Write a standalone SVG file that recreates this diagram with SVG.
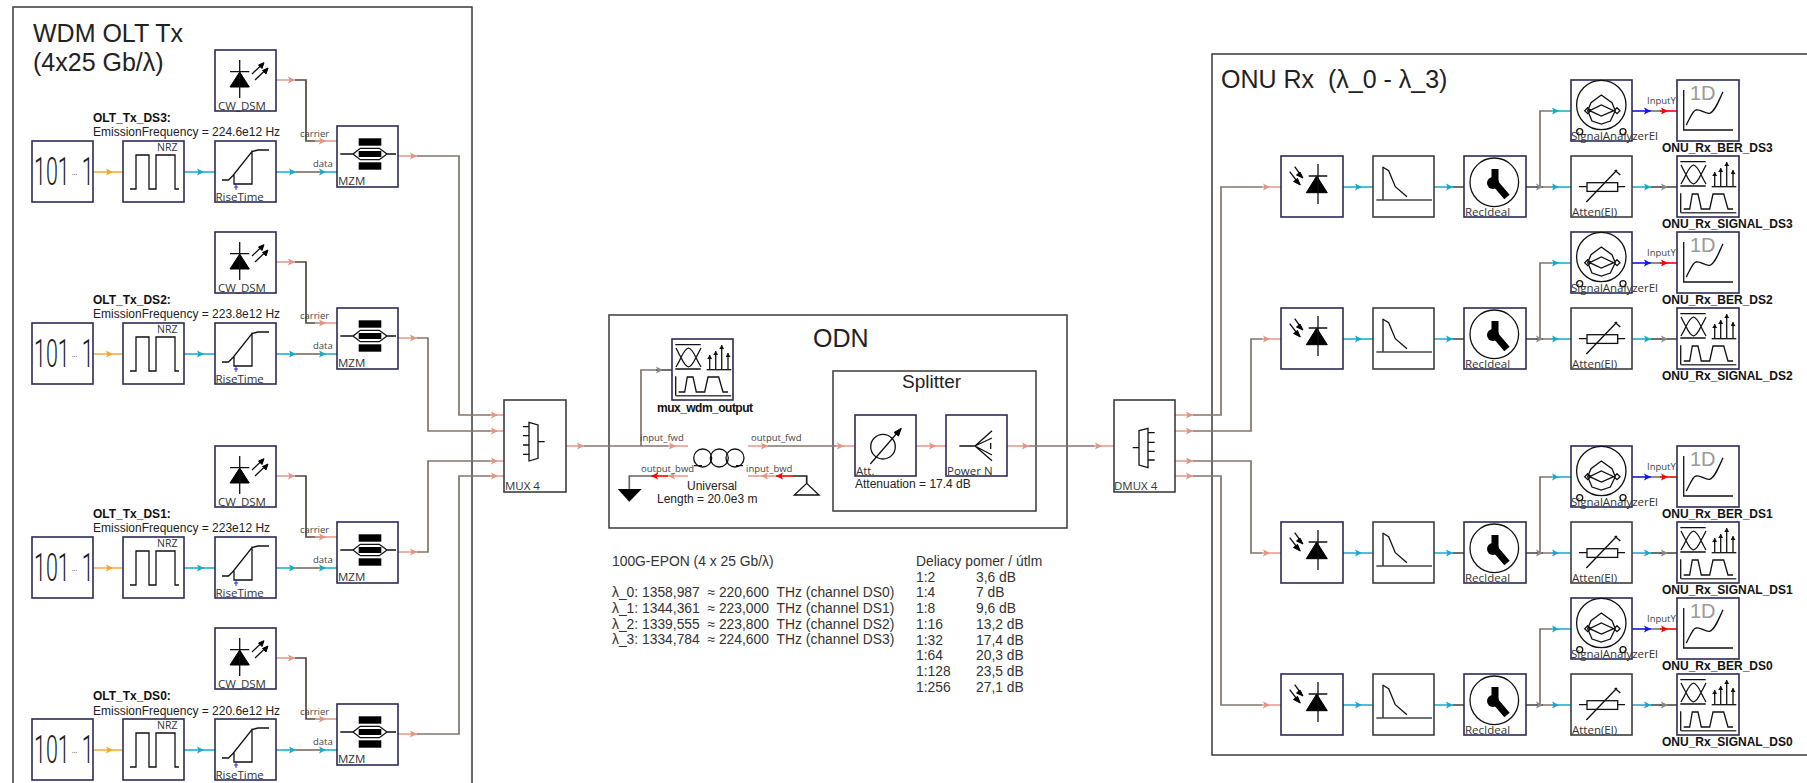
<svg xmlns="http://www.w3.org/2000/svg" width="1807" height="783" viewBox="0 0 1807 783">
<style>
text{font-family:"Liberation Sans",Arial,sans-serif;fill:#222;white-space:pre}
.fr{fill:none;stroke:#3a3a3a;stroke-width:1.5}
.n{fill:#fff;stroke:#2b2b55;stroke-width:1.6}
.g{fill:#fff;stroke:#3d3d3d;stroke-width:1.6}
.ic{fill:none;stroke:#111;stroke-width:1.3}
.ik{fill:#000;stroke:#000;stroke-width:1}
.h{fill:none;stroke-width:1.7;stroke-linejoin:miter}
.br{stroke:#84756a}
.dk{stroke:#55463a}
.gy{stroke:#555}
.bk{stroke:#222}
.p{stroke:#e7a595;marker-end:url(#ap)}
.c{stroke:#2fb4cf;marker-end:url(#ac)}
.o{stroke:#f5b44a;marker-end:url(#ao)}
.b{stroke:#2222ee;marker-end:url(#ab)}
.r{stroke:#ee1111;marker-end:url(#ar)}
.y{stroke:#555;marker-end:url(#ay)}
.t1{font-size:25px}
.t2{font-size:19px}
.l{font-family:"Open Sans",sans-serif;font-size:11.500px;fill:#333}
.nz{font-family:"Open Sans",sans-serif;font-size:10.500px;fill:#333}
.s{font-family:"Open Sans",sans-serif;font-size:9.500px;fill:#444}
.m{font-size:12px}
.mb{font-size:12px;font-weight:bold;fill:#111}
.k{font-size:13.850px;fill:#333}
.bits{font-family:Roboto,sans-serif;font-weight:300;font-size:39px;fill:#222}
.d1{font-size:20px;fill:#999}
</style>
<defs>
<marker id="ap" markerUnits="userSpaceOnUse" markerWidth="8" markerHeight="8" refX="7" refY="4" orient="auto"><path d="M0 .5L7 4L0 7.5L1.5 4z" fill="#e39583"/></marker>
<marker id="ac" markerUnits="userSpaceOnUse" markerWidth="8" markerHeight="8" refX="7" refY="4" orient="auto"><path d="M0 .5L7 4L0 7.5L1.5 4z" fill="#17a9c8"/></marker>
<marker id="ao" markerUnits="userSpaceOnUse" markerWidth="8" markerHeight="8" refX="7" refY="4" orient="auto"><path d="M0 .5L7 4L0 7.5L1.5 4z" fill="#f5a623"/></marker>
<marker id="ab" markerUnits="userSpaceOnUse" markerWidth="8" markerHeight="8" refX="7" refY="4" orient="auto"><path d="M0 .5L7 4L0 7.5L1.5 4z" fill="#1515f0"/></marker>
<marker id="ar" markerUnits="userSpaceOnUse" markerWidth="8" markerHeight="8" refX="7" refY="4" orient="auto"><path d="M0 .5L7 4L0 7.5L1.5 4z" fill="#f00"/></marker>
<marker id="ay" markerUnits="userSpaceOnUse" markerWidth="8" markerHeight="8" refX="7" refY="4" orient="auto"><path d="M0 .5L7 4L0 7.5L1.5 4z" fill="#888"/></marker>
<marker id="as" markerUnits="userSpaceOnUse" markerWidth="5" markerHeight="5" refX="4" refY="2.5" orient="auto"><path d="M0 0L4 2.5L0 5z" fill="#111"/></marker>
<g id="i-cw"><path class="ik" d="M15 37H34.3L24.7 22z"/><path class="ic" d="M15 21.7H34.3M24.7 10V48"/><path class="ic" d="M37 24L47 14.5M40 30L51 19.5"/><path class="ik" d="M49 12.7L43.5 15L47 18.5zM53 18L47.5 20.5L51 24z"/></g>
<g id="i-nrz"><path class="ic" d="M7 48H13V14H26V48H33V14H52V48H56"/></g>
<g id="i-rise"><path class="ic" d="M7 39H13.5L18 34.5L37 10.5L43 9H54M19 34V43H37V9.5"/><path fill="none" stroke="#2222ee" d="M21 43V49M19 46H23"/></g>
<g id="i-mzm"><path class="ic" d="M3.300 28H16L23.300 22.300H42.300L50 28L42.300 33.700H23.300L16 28M50 28H59"/><rect x="21.700" y="12.300" width="22.600" height="7.400"/><rect x="21.700" y="25" width="22.600" height="6"/><rect x="21.700" y="36.300" width="22.600" height="7.400"/></g>
<g id="i-pd"><path class="ik" d="M25.300 36.700H46.300L35.700 20z"/><path class="ic" d="M27.700 20H46.300M37 8V48"/><path class="ic" d="M13.700 10.700L20 19.500M8.700 15.700L17 26.500"/><path class="ik" d="M22 22L15.500 19L19 16zM19.300 29L12.500 25.500L16.500 22.500z"/></g>
<g id="i-lpf"><path class="ic" d="M10 10.700V44"/><path fill="none" stroke="#444" stroke-width="1.500" d="M3.300 44H59"/><path class="ic" d="M10 11.300L15.700 14.700L22.300 30.700L34 40.700"/></g>
<g id="i-rec"><circle class="ic" cx="30.300" cy="26.300" r="24.300"/><path fill="none" stroke="#000" stroke-width="7" d="M31 13V27L43 41"/><circle cx="29" cy="27" r="6"/></g>
<g id="i-sa"><circle class="ic" cx="30.300" cy="25" r="24.700"/><path class="ic" d="M30.300 15L41 22.700L44.300 30.700L39.300 41L30.300 44L21 41L16.700 30.700L20 22.700zM18.700 30.700L30.300 25L42.700 30.700L30.300 36zM16.700 27.700L19.700 30.700L16.700 33.700L13.700 30.700zM46 27.700L49 30.700L46 33.700L43 30.700z"/><circle class="ic" cx="8.700" cy="51.700" r="3"/><circle class="ic" cx="52" cy="51.700" r="3"/></g>
<g id="i-att"><rect class="ic" x="16" y="26.700" width="30.700" height="8.700"/><path class="ic" d="M8 30.700H16M46.700 30.700H54M15.300 46L46 14M43.700 14L49.300 19"/></g>
<g id="i-ber"><path class="ic" d="M6.700 10V50H56M9.300 45C13 38 16 30 19 30C24 29 28 34 32.700 33.300C38 32 42 20 46 11.700"/></g>
<g id="i-sig"><path class="ic" d="M3.300 5.700H28.700M3.300 30H28.700M4 9Q7 15 9 18.500Q13 27 16.500 28Q20 27 24 18.500Q26 15 29 9M4 28Q7 23 9 18.500Q13 10 16.500 9Q20 10 24 18.500Q26 23 29 28"/><path class="ic" d="M34.700 30.700H59.300"/><path class="ic" marker-end="url(#as)" d="M37.700 30V16"/><path class="ic" marker-end="url(#as)" d="M43.700 30V12"/><path class="ic" marker-end="url(#as)" d="M49.700 30V6"/><path class="ic" marker-end="url(#as)" d="M56 30V14"/><path class="ic" d="M3.700 37.300V56.700M6.700 53H12.700L15.300 38H21L24.300 53H32.700L36 38H46.700L51 53H56"/><path fill="none" stroke="#444" stroke-width="1.500" d="M3.700 56.700H59.300"/></g>
</defs>

<g id="frames">
<rect class="fr" x="13" y="7" width="459" height="800"/>
<rect class="fr" x="609" y="315" width="458" height="213"/>
<rect class="fr" x="833" y="371" width="203" height="140"/>
<rect class="fr" x="1212" y="54" width="640" height="701"/>
</g>

<g id="connectors">
<path class="h dk" d="M295 80H306V141H320"/><path class="h p" d="M276 80H295"/><path class="h" stroke="#e7a595" d="M320 141H337"/><path class="h p" d="M315 141H326"/>
<path class="h o" d="M93 172H113"/><path class="h" stroke="#f5b44a" d="M113 172H123"/><path class="h c" d="M184 172H204"/><path class="h" stroke="#2fb4cf" d="M204 172H215"/><path class="h c" d="M276 172H296"/><path class="h br" d="M296 172H320"/><path class="h c" d="M319 172H326"/><path class="h" stroke="#2fb4cf" d="M326 172H337"/>
<path class="h br" d="M417 156H459V415H495"/><path class="h p" d="M398 156H417"/><path class="h p" d="M490 415H498"/><path class="h" stroke="#e7a595" d="M498 415H504"/>

<path class="h dk" d="M295 262H306V323H320"/><path class="h p" d="M276 262H295"/><path class="h" stroke="#e7a595" d="M320 323H337"/><path class="h p" d="M315 323H326"/>
<path class="h o" d="M93 354H113"/><path class="h" stroke="#f5b44a" d="M113 354H123"/><path class="h c" d="M184 354H204"/><path class="h" stroke="#2fb4cf" d="M204 354H215"/><path class="h c" d="M276 354H296"/><path class="h br" d="M296 354H320"/><path class="h c" d="M319 354H326"/><path class="h" stroke="#2fb4cf" d="M326 354H337"/>
<path class="h br" d="M417 338H428V431H495"/><path class="h p" d="M398 338H417"/><path class="h p" d="M490 431H498"/><path class="h" stroke="#e7a595" d="M498 431H504"/>

<path class="h dk" d="M295 476H306V537H320"/><path class="h p" d="M276 476H295"/><path class="h" stroke="#e7a595" d="M320 537H337"/><path class="h p" d="M315 537H326"/>
<path class="h o" d="M93 568H113"/><path class="h" stroke="#f5b44a" d="M113 568H123"/><path class="h c" d="M184 568H204"/><path class="h" stroke="#2fb4cf" d="M204 568H215"/><path class="h c" d="M276 568H296"/><path class="h br" d="M296 568H320"/><path class="h c" d="M319 568H326"/><path class="h" stroke="#2fb4cf" d="M326 568H337"/>
<path class="h br" d="M417 552H428V461H495"/><path class="h p" d="M398 552H417"/><path class="h p" d="M490 461H498"/><path class="h" stroke="#e7a595" d="M498 461H504"/>

<path class="h dk" d="M295 658H306V719H320"/><path class="h p" d="M276 658H295"/><path class="h" stroke="#e7a595" d="M320 719H337"/><path class="h p" d="M315 719H326"/>
<path class="h o" d="M93 750H113"/><path class="h" stroke="#f5b44a" d="M113 750H123"/><path class="h c" d="M184 750H204"/><path class="h" stroke="#2fb4cf" d="M204 750H215"/><path class="h c" d="M276 750H296"/><path class="h br" d="M296 750H320"/><path class="h c" d="M319 750H326"/><path class="h" stroke="#2fb4cf" d="M326 750H337"/>
<path class="h br" d="M417 734H459V476H495"/><path class="h p" d="M398 734H417"/><path class="h p" d="M490 476H498"/><path class="h" stroke="#e7a595" d="M498 476H504"/>

<path class="h br" d="M584 446H668"/><path class="h p" d="M566 446H584"/><path class="h p" d="M668 446H676"/><path class="h" stroke="#e7a595" d="M676 446H688"/>
<path class="h br" d="M641 446V370H663"/><path class="h y" d="M656 370H663"/><path class="h gy" d="M663 370H672"/>
<path class="h br" d="M768 446H838"/><path class="h p" d="M748 446H768"/><path class="h p" d="M836 446H844"/><path class="h" stroke="#e7a595" d="M844 446H855"/>
<path class="h p" d="M916 446H936"/><path class="h" stroke="#e7a595" d="M936 446H946"/>
<path class="h br" d="M1029 446H1095"/><path class="h p" d="M1007 446H1029"/><path class="h p" d="M1094 446H1102"/><path class="h" stroke="#e7a595" d="M1102 446H1114"/>
<path class="h bk" d="M806.700 483V476H793"/><path class="h r" d="M793 476H776"/><path class="h p" d="M776 476H761"/><path class="h" stroke="#e7a595" d="M761 476H748"/>
<path class="h p" d="M688 476H668"/><path class="h r" d="M668 476H651"/><path class="h" stroke="#666" d="M651 476H629.300V489"/>

<path class="h br" d="M1193 415H1221V187H1262"/><path class="h p" d="M1175 415H1193"/><path class="h" stroke="#e7a595" d="M1270 187H1281"/><path class="h p" d="M1262 187H1270"/>
<path class="h br" d="M1193 431H1251V339H1262"/><path class="h p" d="M1175 431H1193"/><path class="h" stroke="#e7a595" d="M1270 339H1281"/><path class="h p" d="M1262 339H1270"/>
<path class="h br" d="M1193 461H1251V553H1262"/><path class="h p" d="M1175 461H1193"/><path class="h" stroke="#e7a595" d="M1270 553H1281"/><path class="h p" d="M1262 553H1270"/>
<path class="h br" d="M1193 476H1221V705H1262"/><path class="h p" d="M1175 476H1193"/><path class="h" stroke="#e7a595" d="M1270 705H1281"/><path class="h p" d="M1262 705H1270"/>

<path class="h c" d="M1343 187H1362"/><path class="h" stroke="#2fb4cf" d="M1362 187H1373"/><path class="h c" d="M1434 187H1453"/><path class="h gy" d="M1453 187H1464"/><path class="h gy" d="M1526 187H1540"/><path class="h br" d="M1540 187H1554M1540 187V111H1552"/><path class="h y" d="M1536 187H1543"/><path class="h c" d="M1552 187H1559"/><path class="h" stroke="#2fb4cf" d="M1559 187H1571"/><path class="h c" d="M1552 111H1559"/><path class="h" stroke="#2fb4cf" d="M1559 111H1571"/><path class="h b" d="M1632 111H1651"/><path class="h br" d="M1651 111H1661"/><path class="h r" d="M1660 111H1668"/><path class="h" stroke="#ee1111" d="M1668 111H1677"/><path class="h c" d="M1632 187H1651"/><path class="h gy" d="M1651 187H1661"/><path class="h y" d="M1660 187H1668"/><path class="h gy" d="M1668 187H1677"/>

<path class="h c" d="M1343 339H1362"/><path class="h" stroke="#2fb4cf" d="M1362 339H1373"/><path class="h c" d="M1434 339H1453"/><path class="h gy" d="M1453 339H1464"/><path class="h gy" d="M1526 339H1540"/><path class="h br" d="M1540 339H1554M1540 339V263H1552"/><path class="h y" d="M1536 339H1543"/><path class="h c" d="M1552 339H1559"/><path class="h" stroke="#2fb4cf" d="M1559 339H1571"/><path class="h c" d="M1552 263H1559"/><path class="h" stroke="#2fb4cf" d="M1559 263H1571"/><path class="h b" d="M1632 263H1651"/><path class="h br" d="M1651 263H1661"/><path class="h r" d="M1660 263H1668"/><path class="h" stroke="#ee1111" d="M1668 263H1677"/><path class="h c" d="M1632 339H1651"/><path class="h gy" d="M1651 339H1661"/><path class="h y" d="M1660 339H1668"/><path class="h gy" d="M1668 339H1677"/>

<path class="h c" d="M1343 553H1362"/><path class="h" stroke="#2fb4cf" d="M1362 553H1373"/><path class="h c" d="M1434 553H1453"/><path class="h gy" d="M1453 553H1464"/><path class="h gy" d="M1526 553H1540"/><path class="h br" d="M1540 553H1554M1540 553V477H1552"/><path class="h y" d="M1536 553H1543"/><path class="h c" d="M1552 553H1559"/><path class="h" stroke="#2fb4cf" d="M1559 553H1571"/><path class="h c" d="M1552 477H1559"/><path class="h" stroke="#2fb4cf" d="M1559 477H1571"/><path class="h b" d="M1632 477H1651"/><path class="h br" d="M1651 477H1661"/><path class="h r" d="M1660 477H1668"/><path class="h" stroke="#ee1111" d="M1668 477H1677"/><path class="h c" d="M1632 553H1651"/><path class="h gy" d="M1651 553H1661"/><path class="h y" d="M1660 553H1668"/><path class="h gy" d="M1668 553H1677"/>

<path class="h c" d="M1343 705H1362"/><path class="h" stroke="#2fb4cf" d="M1362 705H1373"/><path class="h c" d="M1434 705H1453"/><path class="h gy" d="M1453 705H1464"/><path class="h gy" d="M1526 705H1540"/><path class="h br" d="M1540 705H1554M1540 705V629H1552"/><path class="h y" d="M1536 705H1543"/><path class="h c" d="M1552 705H1559"/><path class="h" stroke="#2fb4cf" d="M1559 705H1571"/><path class="h c" d="M1552 629H1559"/><path class="h" stroke="#2fb4cf" d="M1559 629H1571"/><path class="h b" d="M1632 629H1651"/><path class="h br" d="M1651 629H1661"/><path class="h r" d="M1660 629H1668"/><path class="h" stroke="#ee1111" d="M1668 629H1677"/><path class="h c" d="M1632 705H1651"/><path class="h gy" d="M1651 705H1661"/><path class="h y" d="M1660 705H1668"/><path class="h gy" d="M1668 705H1677"/>
</g>

<g id="titles">
<text class="t1" x="33" y="42">WDM OLT Tx</text>
<text class="t1" x="33" y="71">(4x25 Gb/λ)</text>
<text class="t1" x="813" y="347">ODN</text>
<text class="t2" x="902" y="388">Splitter</text>
<text class="t1" x="1221" y="88">ONU Rx  (λ_0 - λ_3)</text>
</g>

<g id="tx-ds3">
<g id="cw-ds3" transform="translate(215,50)"><rect class="n" width="61" height="61"/><use href="#i-cw"/><text class="l" x="3" y="60">CW_DSM</text></g>
<g id="bits-ds3" transform="translate(32,141)"><rect class="n" width="61" height="61"/><text class="bits" transform="translate(2,44) scale(.55,1)">101<tspan font-size="14" dx="4" dy="-10">...</tspan><tspan dx="8" dy="10">1</tspan></text></g>
<g id="nrz-ds3" transform="translate(123,141)"><rect class="n" width="61" height="61"/><use href="#i-nrz"/><text class="nz" x="34" y="10">NRZ</text></g>
<g id="rise-ds3" transform="translate(215,141)"><rect class="n" width="61" height="61"/><use href="#i-rise"/><text class="l" x="0.500" y="60">RiseTime</text></g>
<g id="mzm-ds3" transform="translate(337,126)"><rect class="n" width="61" height="61"/><use href="#i-mzm"/><text class="l" x="1" y="59">MZM</text></g>
<text class="mb" x="93" y="122">OLT_Tx_DS3:</text><text class="m" x="93" y="136">EmissionFrequency = 224.6e12 Hz</text>
<text class="s" x="300" y="137">carrier</text><text class="s" x="313" y="167">data</text>
</g>
<g id="tx-ds2">
<g id="cw-ds2" transform="translate(215,232)"><rect class="n" width="61" height="61"/><use href="#i-cw"/><text class="l" x="3" y="60">CW_DSM</text></g>
<g id="bits-ds2" transform="translate(32,323)"><rect class="n" width="61" height="61"/><text class="bits" transform="translate(2,44) scale(.55,1)">101<tspan font-size="14" dx="4" dy="-10">...</tspan><tspan dx="8" dy="10">1</tspan></text></g>
<g id="nrz-ds2" transform="translate(123,323)"><rect class="n" width="61" height="61"/><use href="#i-nrz"/><text class="nz" x="34" y="10">NRZ</text></g>
<g id="rise-ds2" transform="translate(215,323)"><rect class="n" width="61" height="61"/><use href="#i-rise"/><text class="l" x="0.500" y="60">RiseTime</text></g>
<g id="mzm-ds2" transform="translate(337,308)"><rect class="n" width="61" height="61"/><use href="#i-mzm"/><text class="l" x="1" y="59">MZM</text></g>
<text class="mb" x="93" y="304">OLT_Tx_DS2:</text><text class="m" x="93" y="318">EmissionFrequency = 223.8e12 Hz</text>
<text class="s" x="300" y="319">carrier</text><text class="s" x="313" y="349">data</text>
</g>
<g id="tx-ds1">
<g id="cw-ds1" transform="translate(215,446)"><rect class="n" width="61" height="61"/><use href="#i-cw"/><text class="l" x="3" y="60">CW_DSM</text></g>
<g id="bits-ds1" transform="translate(32,537)"><rect class="n" width="61" height="61"/><text class="bits" transform="translate(2,44) scale(.55,1)">101<tspan font-size="14" dx="4" dy="-10">...</tspan><tspan dx="8" dy="10">1</tspan></text></g>
<g id="nrz-ds1" transform="translate(123,537)"><rect class="n" width="61" height="61"/><use href="#i-nrz"/><text class="nz" x="34" y="10">NRZ</text></g>
<g id="rise-ds1" transform="translate(215,537)"><rect class="n" width="61" height="61"/><use href="#i-rise"/><text class="l" x="0.500" y="60">RiseTime</text></g>
<g id="mzm-ds1" transform="translate(337,522)"><rect class="n" width="61" height="61"/><use href="#i-mzm"/><text class="l" x="1" y="59">MZM</text></g>
<text class="mb" x="93" y="518">OLT_Tx_DS1:</text><text class="m" x="93" y="532">EmissionFrequency = 223e12 Hz</text>
<text class="s" x="300" y="533">carrier</text><text class="s" x="313" y="563">data</text>
</g>
<g id="tx-ds0">
<g id="cw-ds0" transform="translate(215,628)"><rect class="n" width="61" height="61"/><use href="#i-cw"/><text class="l" x="3" y="60">CW_DSM</text></g>
<g id="bits-ds0" transform="translate(32,719)"><rect class="n" width="61" height="61"/><text class="bits" transform="translate(2,44) scale(.55,1)">101<tspan font-size="14" dx="4" dy="-10">...</tspan><tspan dx="8" dy="10">1</tspan></text></g>
<g id="nrz-ds0" transform="translate(123,719)"><rect class="n" width="61" height="61"/><use href="#i-nrz"/><text class="nz" x="34" y="10">NRZ</text></g>
<g id="rise-ds0" transform="translate(215,719)"><rect class="n" width="61" height="61"/><use href="#i-rise"/><text class="l" x="0.500" y="60">RiseTime</text></g>
<g id="mzm-ds0" transform="translate(337,704)"><rect class="n" width="61" height="61"/><use href="#i-mzm"/><text class="l" x="1" y="59">MZM</text></g>
<text class="mb" x="93" y="700">OLT_Tx_DS0:</text><text class="m" x="93" y="715">EmissionFrequency = 220.6e12 Hz</text>
<text class="s" x="300" y="715">carrier</text><text class="s" x="313" y="745">data</text>
</g>

<g id="mux" transform="translate(504,400)"><rect class="g" width="62" height="92"/><path class="ic" d="M25 22.300L34 25V58.300L25 61zM19 26.700H25M19 35.700H25M19 45H25M19 54.300H25M34 41.700H40.700"/><text class="l" x="1" y="90">MUX 4</text></g>
<g id="dmux" transform="translate(1114,400)"><rect class="g" width="61" height="92"/><path class="ic" d="M25 30.700L34 28.300V67.700L25 65zM34 32.700H40.700M34 42.300H40.700M34 51.300H40.700M34 60H40.700M18.700 47.700H25"/><text class="l" x="0" y="90">DMUX 4</text></g>

<g id="mux-monitor" transform="translate(672,339)"><rect class="n" width="61" height="61"/><use href="#i-sig"/></g>
<text id="mux-monitor-label" class="mb" x="657" y="412" textLength="96">mux_wdm_output</text>

<g id="fiber"><path class="ic" d="M694 465.700H702M736 465.700H743"/><circle class="ic" cx="702.700" cy="458" r="9"/><circle class="ic" cx="719.300" cy="458" r="9"/><circle class="ic" cx="735" cy="458" r="9"/>
<text class="s" x="640" y="441">input_fwd</text><text class="s" x="751" y="441">output_fwd</text><text class="s" x="641" y="472">output_bwd</text><text class="s" x="746" y="472">input_bwd</text>
<text class="m" x="687" y="490">Universal</text><text class="m" x="657" y="503">Length = 20.0e3 m</text></g>
<g id="ground"><path d="M617.700 489H641.700L629.300 501.700z"/></g>
<g id="source-node"><path class="ic" stroke-width="1.500" d="M794.300 495H819L806.700 483.300z"/></g>

<g id="att" transform="translate(855,415)"><rect class="n" width="61" height="61"/><circle class="ic" cx="28" cy="31.700" r="12.300"/><path class="ic" d="M15.300 49L43 17"/><path class="ik" d="M46.300 13.300L39 17.500L43.500 21z"/><text class="l" x="1" y="60">Att.</text></g>
<g id="power" transform="translate(946,415)"><rect class="n" width="61" height="61"/><path class="ic" d="M13.300 31H29L46 15.700M29 31L46 23M29 31L46 40M29 31L46 45.700M44.700 28V34"/><text class="l" x="1" y="60">Power N</text></g>
<text class="m" x="855" y="488">Attenuation = 17.4 dB</text>

<g id="notes">
<text class="k" x="612" y="566">100G-EPON (4 x 25 Gb/λ)</text>
<text class="k" x="612" y="597">λ_0: 1358,987  ≈ 220,600  THz (channel DS0)</text>
<text class="k" x="612" y="613">λ_1: 1344,361  ≈ 223,000  THz (channel DS1)</text>
<text class="k" x="612" y="629">λ_2: 1339,555  ≈ 223,800  THz (channel DS2)</text>
<text class="k" x="612" y="644">λ_3: 1334,784  ≈ 224,600  THz (channel DS3)</text>
<text class="k" x="916" y="566">Deliacy pomer / útlm</text>
<text class="k" x="916" y="582">1:2</text><text class="k" x="976" y="582">3,6 dB</text>
<text class="k" x="916" y="597">1:4</text><text class="k" x="976" y="597">7 dB</text>
<text class="k" x="916" y="613">1:8</text><text class="k" x="976" y="613">9,6 dB</text>
<text class="k" x="916" y="629">1:16</text><text class="k" x="976" y="629">13,2 dB</text>
<text class="k" x="916" y="645">1:32</text><text class="k" x="976" y="645">17,4 dB</text>
<text class="k" x="916" y="660">1:64</text><text class="k" x="976" y="660">20,3 dB</text>
<text class="k" x="916" y="676">1:128</text><text class="k" x="976" y="676">23,5 dB</text>
<text class="k" x="916" y="692">1:256</text><text class="k" x="976" y="692">27,1 dB</text>
</g>

<g id="rx-ds3">
<g id="pd-ds3" transform="translate(1281,156)"><rect class="n" width="62" height="61"/><use href="#i-pd"/></g>
<g id="lpf-ds3" transform="translate(1373,156)"><rect class="g" width="61" height="61"/><use href="#i-lpf"/></g>
<g id="rec-ds3" transform="translate(1464,156)"><rect class="n" width="62" height="61"/><use href="#i-rec"/><text class="l" x="1" y="60">RecIdeal</text></g>
<g id="sa-ds3" transform="translate(1571,80)"><rect class="n" width="61" height="61"/><use href="#i-sa"/><text class="l" x="0" y="60">SignalAnalyzerEl</text></g>
<g id="atten-ds3" transform="translate(1571,156)"><rect class="g" width="61" height="61"/><use href="#i-att"/><text class="l" x="1" y="60">Atten(El)</text></g>
<g id="ber-ds3" transform="translate(1677,80)"><rect class="n" width="62" height="61"/><use href="#i-ber"/><text class="d1" x="13" y="20">1D</text></g>
<g id="sig-ds3" transform="translate(1677,156)"><rect class="n" width="62" height="61"/><use href="#i-sig"/></g>
<text class="s" x="1647" y="104">InputY</text><text class="mb" x="1662" y="152">ONU_Rx_BER_DS3</text><text class="mb" x="1662" y="228">ONU_Rx_SIGNAL_DS3</text>
</g>
<g id="rx-ds2">
<g id="pd-ds2" transform="translate(1281,308)"><rect class="n" width="62" height="61"/><use href="#i-pd"/></g>
<g id="lpf-ds2" transform="translate(1373,308)"><rect class="g" width="61" height="61"/><use href="#i-lpf"/></g>
<g id="rec-ds2" transform="translate(1464,308)"><rect class="n" width="62" height="61"/><use href="#i-rec"/><text class="l" x="1" y="60">RecIdeal</text></g>
<g id="sa-ds2" transform="translate(1571,232)"><rect class="n" width="61" height="61"/><use href="#i-sa"/><text class="l" x="0" y="60">SignalAnalyzerEl</text></g>
<g id="atten-ds2" transform="translate(1571,308)"><rect class="g" width="61" height="61"/><use href="#i-att"/><text class="l" x="1" y="60">Atten(El)</text></g>
<g id="ber-ds2" transform="translate(1677,232)"><rect class="n" width="62" height="61"/><use href="#i-ber"/><text class="d1" x="13" y="20">1D</text></g>
<g id="sig-ds2" transform="translate(1677,308)"><rect class="n" width="62" height="61"/><use href="#i-sig"/></g>
<text class="s" x="1647" y="256">InputY</text><text class="mb" x="1662" y="304">ONU_Rx_BER_DS2</text><text class="mb" x="1662" y="380">ONU_Rx_SIGNAL_DS2</text>
</g>
<g id="rx-ds1">
<g id="pd-ds1" transform="translate(1281,522)"><rect class="n" width="62" height="61"/><use href="#i-pd"/></g>
<g id="lpf-ds1" transform="translate(1373,522)"><rect class="g" width="61" height="61"/><use href="#i-lpf"/></g>
<g id="rec-ds1" transform="translate(1464,522)"><rect class="n" width="62" height="61"/><use href="#i-rec"/><text class="l" x="1" y="60">RecIdeal</text></g>
<g id="sa-ds1" transform="translate(1571,446)"><rect class="n" width="61" height="61"/><use href="#i-sa"/><text class="l" x="0" y="60">SignalAnalyzerEl</text></g>
<g id="atten-ds1" transform="translate(1571,522)"><rect class="g" width="61" height="61"/><use href="#i-att"/><text class="l" x="1" y="60">Atten(El)</text></g>
<g id="ber-ds1" transform="translate(1677,446)"><rect class="n" width="62" height="61"/><use href="#i-ber"/><text class="d1" x="13" y="20">1D</text></g>
<g id="sig-ds1" transform="translate(1677,522)"><rect class="n" width="62" height="61"/><use href="#i-sig"/></g>
<text class="s" x="1647" y="470">InputY</text><text class="mb" x="1662" y="518">ONU_Rx_BER_DS1</text><text class="mb" x="1662" y="594">ONU_Rx_SIGNAL_DS1</text>
</g>
<g id="rx-ds0">
<g id="pd-ds0" transform="translate(1281,674)"><rect class="n" width="62" height="61"/><use href="#i-pd"/></g>
<g id="lpf-ds0" transform="translate(1373,674)"><rect class="g" width="61" height="61"/><use href="#i-lpf"/></g>
<g id="rec-ds0" transform="translate(1464,674)"><rect class="n" width="62" height="61"/><use href="#i-rec"/><text class="l" x="1" y="60">RecIdeal</text></g>
<g id="sa-ds0" transform="translate(1571,598)"><rect class="n" width="61" height="61"/><use href="#i-sa"/><text class="l" x="0" y="60">SignalAnalyzerEl</text></g>
<g id="atten-ds0" transform="translate(1571,674)"><rect class="g" width="61" height="61"/><use href="#i-att"/><text class="l" x="1" y="60">Atten(El)</text></g>
<g id="ber-ds0" transform="translate(1677,598)"><rect class="n" width="62" height="61"/><use href="#i-ber"/><text class="d1" x="13" y="20">1D</text></g>
<g id="sig-ds0" transform="translate(1677,674)"><rect class="n" width="62" height="61"/><use href="#i-sig"/></g>
<text class="s" x="1647" y="622">InputY</text><text class="mb" x="1662" y="670">ONU_Rx_BER_DS0</text><text class="mb" x="1662" y="746">ONU_Rx_SIGNAL_DS0</text>
</g>
</svg>
